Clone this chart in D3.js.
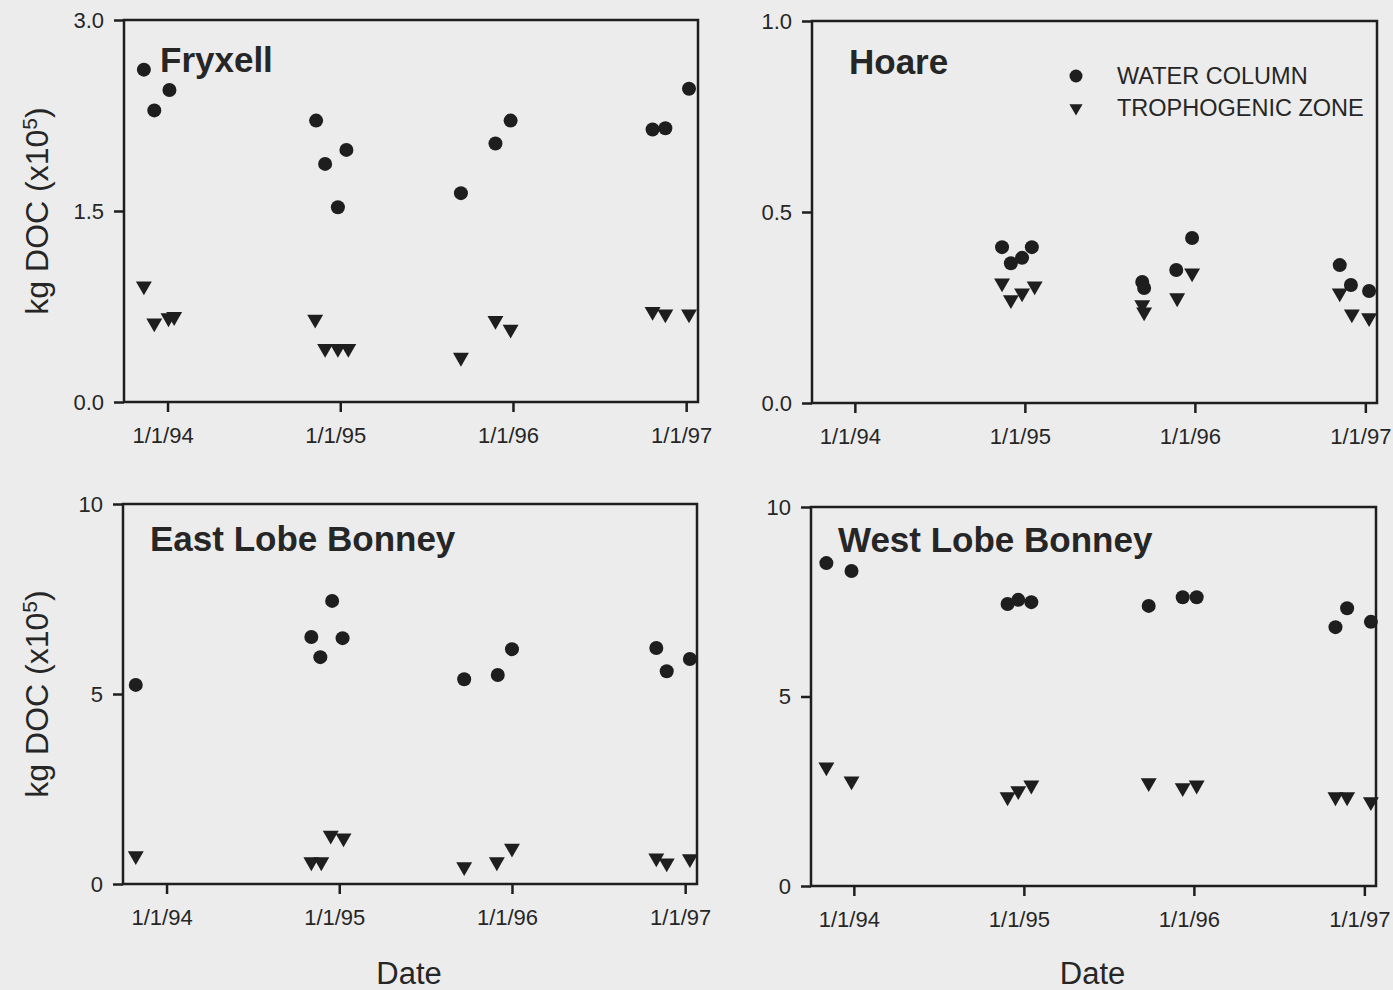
<!DOCTYPE html>
<html>
<head>
<meta charset="utf-8">
<script src="https://cdn.jsdelivr.net/npm/d3@7"></script>
<style>
  body { margin: 0; background: #ececec; }
  text { font-family: "Liberation Sans", Arial, sans-serif; fill: #262626; }
</style>
</head>
<body>
<div id="chart"></div>
<script>
// shared x axis
const xDomain = ['1993-10-01', '1997-01-26']
const xTickDates = ['1994-01-01', '1995-01-01', '1996-01-01', '1997-01-01']
const xTickLabels = ['1/1/94', '1/1/95', '1/1/96', '1/1/97']

const seriesNames = ['WATER COLUMN', 'TROPHOGENIC ZONE']

// Fryxell
const fryxellWaterDates = ['1993-11-12', '1993-12-04', '1994-01-05', '1994-11-11', '1994-11-30', '1994-12-27', '1995-01-14', '1995-09-13', '1995-11-25', '1995-12-27', '1996-10-22', '1996-11-18', '1997-01-07']
const fryxellWater = [2.61, 2.29, 2.45, 2.21, 1.87, 1.53, 1.98, 1.64, 2.03, 2.21, 2.14, 2.15, 2.46]
const fryxellTrophDates = ['1993-11-12', '1993-12-04', '1994-01-03', '1994-01-15', '1994-11-09', '1994-11-30', '1994-12-27', '1995-01-18', '1995-09-13', '1995-11-25', '1995-12-27', '1996-10-22', '1996-11-18', '1997-01-07']
const fryxellTroph = [0.91, 0.62, 0.66, 0.67, 0.65, 0.42, 0.42, 0.42, 0.35, 0.64, 0.57, 0.71, 0.69, 0.69]
const fryxellTicks = [0, 1.5, 3.0]

// Hoare
const hoareWaterDates = ['1994-11-13', '1994-12-02', '1994-12-26', '1995-01-16', '1995-09-10', '1995-09-14', '1995-11-22', '1995-12-26', '1996-11-07', '1996-12-01', '1997-01-09']
const hoareWater = [0.408, 0.366, 0.380, 0.408, 0.317, 0.301, 0.348, 0.432, 0.361, 0.309, 0.293]
const hoareTrophDates = ['1994-11-13', '1994-12-02', '1994-12-26', '1995-01-22', '1995-09-10', '1995-09-14', '1995-11-24', '1995-12-26', '1996-11-07', '1996-12-03', '1997-01-09']
const hoareTroph = [0.314, 0.270, 0.288, 0.306, 0.257, 0.238, 0.275, 0.340, 0.288, 0.233, 0.223]
const hoareTicks = [0, 0.5, 1.0]

// East Lobe Bonney
const eastWaterDates = ['1993-10-28', '1994-11-03', '1994-11-22', '1994-12-17', '1995-01-08', '1995-09-22', '1995-12-02', '1996-01-01', '1996-11-01', '1996-11-23', '1997-01-11']
const eastWater = [5.24, 6.5, 5.97, 7.45, 6.47, 5.39, 5.5, 6.18, 6.21, 5.6, 5.92]
const eastTrophDates = ['1993-10-28', '1994-11-03', '1994-11-24', '1994-12-14', '1995-01-10', '1995-09-22', '1995-11-30', '1996-01-01', '1996-11-01', '1996-11-23', '1997-01-11']
const eastTroph = [0.74, 0.58, 0.58, 1.28, 1.21, 0.45, 0.58, 0.94, 0.68, 0.55, 0.66]
const bonneyTicks = [0, 5, 10]

// West Lobe Bonney
const westWaterDates = ['1993-11-03', '1993-12-27', '1994-11-27', '1994-12-20', '1995-01-17', '1995-09-26', '1995-12-08', '1996-01-07', '1996-10-31', '1996-11-25', '1997-01-15']
const westWater = [8.52, 8.31, 7.44, 7.55, 7.49, 7.39, 7.62, 7.62, 6.83, 7.33, 6.97]
const westTrophDates = westWaterDates
const westTroph = [3.14, 2.77, 2.35, 2.51, 2.66, 2.72, 2.59, 2.66, 2.35, 2.35, 2.22]

const ink = '#1e1e1e'
const parse = d3.timeParse('%Y-%m-%d')

const panels = [
    { title: 'Fryxell', wd: fryxellWaterDates, w: fryxellWater, td: fryxellTrophDates, t: fryxellTroph,
      ticks: fryxellTicks, fmt: d3.format('.1f'), box: [124, 698, 20, 402], title_xy: [160, 72], yLabel: true },
    { title: 'Hoare', wd: hoareWaterDates, w: hoareWater, td: hoareTrophDates, t: hoareTroph,
      ticks: hoareTicks, fmt: d3.format('.1f'), box: [812, 1377, 21, 403], title_xy: [849, 74], legend: true },
    { title: 'East Lobe Bonney', wd: eastWaterDates, w: eastWater, td: eastTrophDates, t: eastTroph,
      ticks: bonneyTicks, fmt: d3.format('d'), box: [123, 697, 504, 884], title_xy: [150, 551], yLabel: true, dateLabel: true },
    { title: 'West Lobe Bonney', wd: westWaterDates, w: westWater, td: westTrophDates, t: westTroph,
      ticks: bonneyTicks, fmt: d3.format('d'), box: [811, 1376, 507, 886], title_xy: [838, 552], dateLabel: true },
]

const svg = d3.select('#chart')
    .append('svg')
    .attr('width', 1393)
    .attr('height', 990)

const circleR = 7
const triangle = d3.symbol().type(d3.symbolTriangle).size(110)

function styleAxis(g) {
    g.select('.domain').remove()
    g.selectAll('.tick line').attr('stroke', ink).attr('stroke-width', 2.5)
    g.selectAll('.tick text').attr('fill', '#262626').style('font-size', '22px')
}

panels.forEach(p => {
    const [x0, x1, y0, y1] = p.box
    const g = svg.append('g')

    const xScale = d3.scaleTime()
        .domain(xDomain.map(parse))
        .range([x0, x1])
    const yScale = d3.scaleLinear()
        .domain(d3.extent(p.ticks))
        .range([y1, y0])

    const xAxis = d3.axisBottom(xScale)
        .tickValues(xTickDates.map(parse))
        .tickFormat((d, i) => xTickLabels[i])
        .tickSize(10)
        .tickSizeOuter(0)
        .tickPadding(15)
    const yAxis = d3.axisLeft(yScale)
        .tickValues(p.ticks)
        .tickFormat(p.fmt)
        .tickSize(10)
        .tickSizeOuter(0)
        .tickPadding(10)

    g.append('g')
        .attr('transform', `translate(0, ${y1})`)
        .call(xAxis)
        .call(styleAxis)
        .selectAll('.tick text')
        .attr('dx', -5)
    g.append('g')
        .attr('transform', `translate(${x0}, 0)`)
        .call(yAxis)
        .call(styleAxis)

    g.append('rect')
        .attr('x', x0)
        .attr('y', y0)
        .attr('width', x1 - x0)
        .attr('height', y1 - y0)
        .attr('fill', 'none')
        .attr('stroke', ink)
        .attr('stroke-width', 2.5)

    g.append('g').selectAll('path')
        .data(d3.zip(p.td, p.t))
        .join('path')
        .attr('d', triangle)
        .attr('transform', d => `translate(${xScale(parse(d[0]))}, ${yScale(d[1])}) rotate(180)`)
        .attr('fill', ink)

    g.append('g').selectAll('circle')
        .data(d3.zip(p.wd, p.w))
        .join('circle')
        .attr('cx', d => xScale(parse(d[0])))
        .attr('cy', d => yScale(d[1]))
        .attr('r', circleR)
        .attr('fill', ink)

    g.append('text')
        .attr('x', p.title_xy[0])
        .attr('y', p.title_xy[1])
        .style('font-size', '35px')
        .style('font-weight', 'bold')
        .text(p.title)

    if (p.yLabel) {
        const label = g.append('text')
            .attr('transform', `translate(48, ${(y0 + y1) / 2}) rotate(-90)`)
            .attr('text-anchor', 'middle')
            .style('font-size', '32px')
        label.append('tspan').text('kg DOC (x10')
        label.append('tspan').attr('baseline-shift', 'super').style('font-size', '21px').text('5')
        label.append('tspan').text(')')
    }

    if (p.dateLabel) {
        g.append('text')
            .attr('x', (x0 + x1) / 2 - 1)
            .attr('y', 984)
            .attr('text-anchor', 'middle')
            .style('font-size', '31px')
            .text('Date')
    }

    if (p.legend) {
        const lg = g.append('g').attr('transform', 'translate(1076, 76)')
        lg.append('circle').attr('cx', 0).attr('cy', 0).attr('r', 6.5).attr('fill', ink)
        lg.append('path')
            .attr('d', d3.symbol().type(d3.symbolTriangle).size(75))
            .attr('transform', 'translate(0, 32) rotate(180)')
            .attr('fill', ink)
        lg.selectAll('text.lab')
            .data(seriesNames)
            .join('text')
            .attr('class', 'lab')
            .attr('x', 41)
            .attr('y', (d, i) => i * 32 + 8)
            .style('font-size', '23.5px')
            .text(d => d)
    }
})
</script>
</body>
</html>
